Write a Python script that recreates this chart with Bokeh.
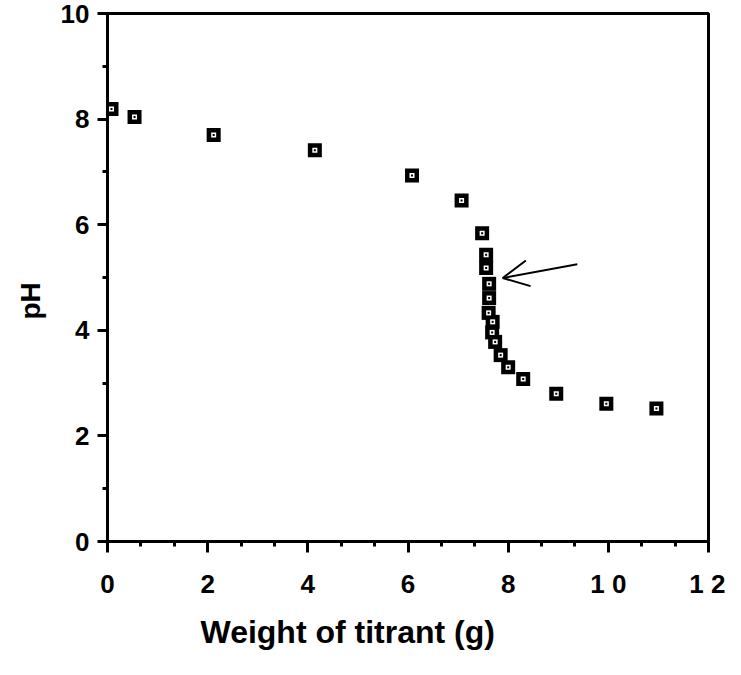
from bokeh.plotting import figure
from bokeh.models import Range1d, FixedTicker, Arrow, OpenHead, Title, ColumnDataSource
from bokeh.embed import file_html
from bokeh.resources import INLINE

# data
weight = [0.08, 0.54, 2.12, 4.14, 6.08, 7.07, 7.48, 7.56, 7.56, 7.62, 7.62,
          7.61, 7.69, 7.68, 7.74, 7.85, 8.00, 8.30, 8.96, 9.96, 10.96]
ph = [8.19, 8.04, 7.70, 7.41, 6.93, 6.46, 5.84, 5.43, 5.18, 4.88, 4.61,
      4.33, 4.16, 3.96, 3.78, 3.53, 3.30, 3.08, 2.80, 2.61, 2.52]

x_ticks = [0, 2, 4, 6, 8, 10, 12]
x_tick_labels = ["0", "2", "4", "6", "8", "1 0", "1 2"]
y_ticks = [0, 2, 4, 6, 8, 10]
y_tick_labels = ["0", "2", "4", "6", "8", "10"]

# annotation arrow (data units)
arrow_tail = (9.38, 5.25)
arrow_tip = (7.89, 4.99)

x_label = "Weight of  titrant (g)"
y_label = "pH"

FONT = "Liberation Sans"

p = figure(width=725, height=659, output_backend="svg", toolbar_location=None,
           x_range=Range1d(0, 12), y_range=Range1d(0, 10),
           min_border_left=104, min_border_right=17, min_border_top=13,
           min_border_bottom=113)
p.grid.visible = False
p.background_fill_color = "white"
p.border_fill_color = "white"
p.outline_line_color = "black"
p.outline_line_width = 3

src = ColumnDataSource(dict(x=weight, y=ph))
p.scatter("x", "y", source=src, marker="square", size=14, fill_color="black",
          line_color=None)
p.scatter("x", "y", source=src, marker="square", size=5, fill_color="white",
          line_color=None)
p.scatter("x", "y", source=src, marker="square", size=2, fill_color="black",
          line_color=None)

p.add_layout(Arrow(end=OpenHead(size=26, line_width=2, line_color="black"),
                   x_start=arrow_tail[0], y_start=arrow_tail[1],
                   x_end=arrow_tip[0], y_end=arrow_tip[1],
                   line_width=2, line_color="black"))

xa = p.xaxis[0]
xa.ticker = FixedTicker(ticks=x_ticks,
                        minor_ticks=[i * 2 / 3 for i in range(0, 19)])
xa.major_label_overrides = {t: l for t, l in zip(x_ticks, x_tick_labels)}
ya = p.yaxis[0]
ya.ticker = FixedTicker(ticks=y_ticks, minor_ticks=list(range(0, 11)))
ya.major_label_overrides = {t: l for t, l in zip(y_ticks, y_tick_labels)}

for ax in (xa, ya):
    ax.axis_line_width = 3
    ax.axis_line_color = "black"
    ax.major_tick_line_width = 3
    ax.minor_tick_line_width = 3
    ax.major_tick_in = 0
    ax.minor_tick_in = 0
    ax.major_label_text_font = FONT
    ax.major_label_text_font_style = "bold"
    ax.major_label_text_font_size = "26px"
    ax.major_label_text_color = "black"

xa.major_tick_out = 11
xa.minor_tick_out = 5
xa.major_label_standoff = 16
ya.major_tick_out = 10
ya.minor_tick_out = 5
ya.major_label_standoff = 8

# axis titles (as side titles so they can sit off-centre like the reference)
p.add_layout(Title(text=y_label, align="left", offset=222, standoff=24,
                   text_font=FONT, text_font_style="bold",
                   text_font_size="28px", text_color="black"), "left")
p.add_layout(Title(text=x_label, align="left", offset=93, standoff=20,
                   text_font=FONT, text_font_style="bold",
                   text_font_size="32px", text_color="black"), "below")

open("out.html", "w").write(file_html(p, INLINE))
